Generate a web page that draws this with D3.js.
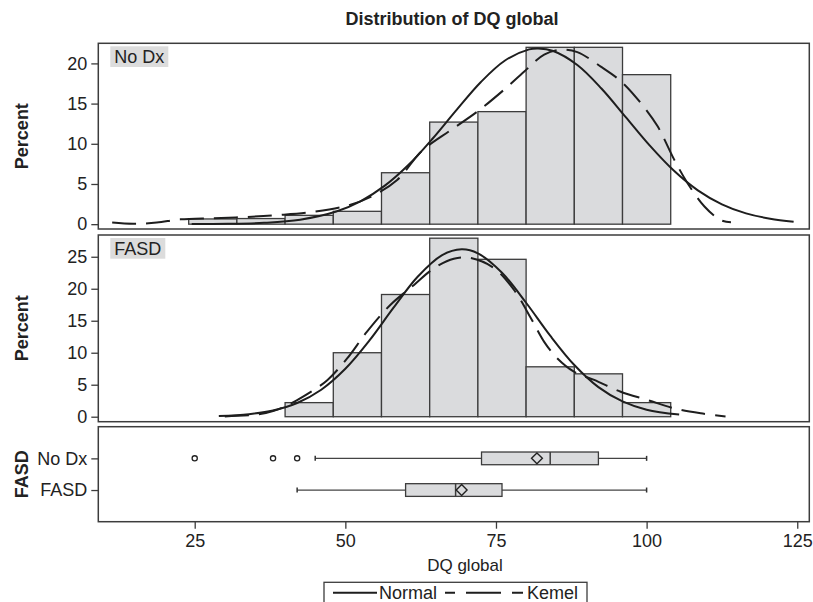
<!DOCTYPE html>
<html><head><meta charset="utf-8">
<script src="https://cdn.jsdelivr.net/npm/d3@7"></script>
<style>body{margin:0;background:#fff}svg{display:block}text{font-family:"Liberation Sans",Arial,sans-serif;fill:#222}</style>
</head><body>
<script>
// ---------- DATA ----------
const groups = ["No Dx", "FASD"];
const xTicks = [25, 50, 75, 100, 125];
const binWidth = 8;
const noDxBinStart = [24, 32, 40, 48, 56, 64, 72, 80, 88, 96];
const noDxPct = [0.65, 0.7, 1.1, 1.6, 6.4, 12.7, 14.0, 22.0, 22.0, 18.6];
const fasdBinStart = [40, 48, 56, 64, 72, 80, 88, 96];
const fasdPct = [2.2, 10.0, 19.1, 27.9, 24.6, 7.8, 6.7, 2.2];
const noDxYTicks = [0, 5, 10, 15, 20];
const fasdYTicks = [0, 5, 10, 15, 20, 25];

const noDxNormalX = [24.5, 30.5, 36.5, 42.5, 48.5, 52.5, 56.5, 60.5, 64.5, 68.5, 72.5, 76.5, 80.5, 82, 84.5, 88.5, 92.5, 96.5, 100.5, 104.5, 108.5, 112.5, 116.5, 120.5, 124.4];
const noDxNormalY = [0.01, 0.04, 0.17, 0.56, 1.57, 2.84, 4.76, 7.39, 10.66, 14.25, 17.69, 20.36, 21.74, 21.86, 21.54, 19.8, 16.88, 13.35, 9.8, 6.67, 4.21, 2.47, 1.34, 0.68, 0.31];
const noDxKernelX = [11.3, 14.8, 18.7, 22.6, 28.2, 33.7, 39.2, 44.8, 50.3, 54.2, 58.6, 62.7, 67.5, 71.9, 76.3, 79.7, 83, 85.8, 88.5, 92.4, 95.7, 99, 101.8, 104.6, 106.8, 109.6, 112.3, 114];
const noDxKernelY = [0.2, 0.05, 0.2, 0.6, 0.75, 0.9, 1.15, 1.55, 2.3, 3.4, 5.5, 9.1, 11.7, 14.0, 16.7, 19.0, 21.1, 21.7, 21.4, 19.6, 17.8, 15.1, 12.2, 8.0, 5.1, 2.2, 0.5, 0.25];

const fasdNormalX = [29, 34, 38, 42, 46, 50, 54, 58, 62, 66, 69.3, 72, 76, 80, 84, 88, 92, 96, 100, 105.4];
const fasdNormalY = [0.11, 0.4, 0.97, 2.14, 4.22, 7.49, 11.92, 17.04, 21.87, 25.22, 26.16, 25.53, 22.5, 17.81, 12.66, 8.08, 4.63, 2.39, 1.1, 0.33];
const fasdKernelX = [30, 35, 38, 40, 42, 44.8, 47, 50.3, 53.6, 57.5, 61.4, 64.7, 68, 70.8, 74.7, 78, 80.8, 83, 85.2, 88, 91.3, 95.7, 100.2, 104.6, 109, 113.1];
const fasdKernelY = [0.05, 0.3, 0.9, 1.6, 2.6, 4.2, 5.7, 9.1, 13.3, 17.5, 20.6, 23.2, 24.7, 24.8, 23.2, 19.8, 15.4, 11.7, 9.1, 7.0, 5.75, 3.9, 2.6, 1.3, 0.53, 0.05];

const boxQ1 = [72.6, 60];
const boxMedian = [84, 68.3];
const boxQ3 = [92, 76];
const boxMean = [81.8, 69.3];
const whiskerLow = [45, 42];
const whiskerHigh = [100, 100];
const noDxOutliers = [25, 38, 42];

// ---------- LAYOUT ----------
const W = 813, H = 602;
const svg = d3.select("body").append("svg").attr("width", W).attr("height", H);
svg.append("rect").attr("width", W).attr("height", H).attr("fill", "#fff");

const x = d3.scaleLinear().domain([9, 127]).range([98.3, 809.3]);
const panels = [
  {name: "No Dx", top: 43.3, bottom: 229, dom: [-0.6, 22.5], ticks: noDxYTicks,
   bins: noDxBinStart, pct: noDxPct, nx: noDxNormalX, ny: noDxNormalY, kx: noDxKernelX, ky: noDxKernelY},
  {name: "FASD", top: 235, bottom: 421.7, dom: [-0.78, 28.4], ticks: fasdYTicks,
   bins: fasdBinStart, pct: fasdPct, nx: fasdNormalX, ny: fasdNormalY, kx: fasdKernelX, ky: fasdKernelY}
];
const boxPanel = {top: 426.7, bottom: 521.7};

const barFill = "#dadbdd", darkStroke = "#3c3c3c", font = 18;

// title
svg.append("text").attr("x", 452).attr("y", 25).attr("text-anchor", "middle")
  .attr("font-size", 18).attr("font-weight", "bold").text("Distribution of DQ global");

panels.forEach((p, i) => {
  const y = d3.scaleLinear().domain(p.dom).range([p.bottom, p.top]);
  const g = svg.append("g");
  const clipId = "clip" + i;
  svg.append("clipPath").attr("id", clipId).append("rect")
    .attr("x", x.range()[0]).attr("y", p.top).attr("width", x.range()[1] - x.range()[0]).attr("height", p.bottom - p.top);

  // bars
  g.selectAll("rect.bar").data(p.bins.map((b, j) => ({b, v: p.pct[j]}))).join("rect")
    .attr("x", d => x(d.b)).attr("width", d => x(d.b + binWidth) - x(d.b))
    .attr("y", d => y(d.v)).attr("height", d => y(0) - y(d.v))
    .attr("fill", barFill).attr("stroke", darkStroke).attr("stroke-width", 1.3);

  // curves
  const line = d3.line().x(d => x(d[0])).y(d => y(d[1])).curve(d3.curveCatmullRom.alpha(0.5));
  g.append("path").attr("d", line(p.nx.map((v, j) => [v, p.ny[j]])))
    .attr("fill", "none").attr("stroke", "#1e1e1e").attr("stroke-width", 2).attr("clip-path", `url(#${clipId})`);
  g.append("path").attr("d", line(p.kx.map((v, j) => [v, p.ky[j]])))
    .attr("fill", "none").attr("stroke", "#1e1e1e").attr("stroke-width", 2)
    .attr("stroke-dasharray", "24,10").attr("clip-path", `url(#${clipId})`);

  // inset label
  const lab = g.append("g").attr("transform", `translate(${x.range()[0] + 12},${p.top + 3})`);
  const t = lab.append("text").attr("x", 4).attr("y", 17).attr("font-size", font).text(p.name);
  const bb = t.node().getBBox();
  lab.insert("rect", "text").attr("x", 0).attr("y", 0).attr("width", bb.width + 8).attr("height", 20.7).attr("fill", "#dcdcdc");

  // frame
  svg.append("rect").attr("x", x.range()[0]).attr("y", p.top).attr("width", x.range()[1] - x.range()[0])
    .attr("height", p.bottom - p.top).attr("fill", "none").attr("stroke", darkStroke).attr("stroke-width", 1.5);

  // y axis
  const ax = svg.append("g").attr("transform", `translate(${x.range()[0]},0)`)
    .call(d3.axisLeft(y).tickValues(p.ticks).tickSize(7).tickPadding(4).tickFormat(d3.format("d")));
  ax.select(".domain").remove();
  ax.selectAll("line").attr("stroke", darkStroke).attr("stroke-width", 1.3);
  ax.selectAll("text").attr("font-size", font).attr("fill", "#222").attr("font-family", '"Liberation Sans",Arial,sans-serif');

  svg.append("text").attr("transform", `translate(22,${(p.top + p.bottom) / 2}) rotate(-90)`)
    .attr("text-anchor", "middle").attr("dy", "0.35em").attr("font-size", font).attr("font-weight", "bold").text("Percent");
});

// ---------- BOX PLOT PANEL ----------
const yb = d3.scalePoint().domain(groups).range([boxPanel.top, boxPanel.bottom]).padding(1);
const bh = 12.7;
const bg = svg.append("g");
groups.forEach((gname, i) => {
  const cy = yb(gname);
  bg.append("line").attr("x1", x(whiskerLow[i])).attr("x2", x(boxQ1[i])).attr("y1", cy).attr("y2", cy)
    .attr("stroke", "#444").attr("stroke-width", 1.3);
  bg.append("line").attr("x1", x(boxQ3[i])).attr("x2", x(whiskerHigh[i])).attr("y1", cy).attr("y2", cy)
    .attr("stroke", "#444").attr("stroke-width", 1.3);
  [whiskerLow[i], whiskerHigh[i]].forEach(v => bg.append("line").attr("x1", x(v)).attr("x2", x(v))
    .attr("y1", cy - 2.5).attr("y2", cy + 2.5).attr("stroke", "#333").attr("stroke-width", 1.5));
  bg.append("rect").attr("x", x(boxQ1[i])).attr("width", x(boxQ3[i]) - x(boxQ1[i]))
    .attr("y", cy - bh / 2).attr("height", bh).attr("fill", barFill).attr("stroke", darkStroke).attr("stroke-width", 1.3);
  bg.append("line").attr("x1", x(boxMedian[i])).attr("x2", x(boxMedian[i])).attr("y1", cy - bh / 2).attr("y2", cy + bh / 2)
    .attr("stroke", darkStroke).attr("stroke-width", 1.5);
  bg.append("path").attr("d", d3.symbol(d3.symbolDiamond2, 75)()).attr("transform", `translate(${x(boxMean[i])},${cy})`)
    .attr("fill", "none").attr("stroke", "#222").attr("stroke-width", 1.4);
});
bg.selectAll("circle.out").data(noDxOutliers).join("circle")
  .attr("cx", d => x(d)).attr("cy", yb("No Dx")).attr("r", 2.6)
  .attr("fill", "none").attr("stroke", "#222").attr("stroke-width", 1.3);

svg.append("rect").attr("x", x.range()[0]).attr("y", boxPanel.top).attr("width", x.range()[1] - x.range()[0])
  .attr("height", boxPanel.bottom - boxPanel.top).attr("fill", "none").attr("stroke", darkStroke).attr("stroke-width", 1.5);

const ayb = svg.append("g").attr("transform", `translate(${x.range()[0]},0)`).call(d3.axisLeft(yb).tickSize(7).tickPadding(4));
ayb.select(".domain").remove();
ayb.selectAll("line").attr("stroke", darkStroke).attr("stroke-width", 1.3);
ayb.selectAll("text").attr("font-size", font).attr("fill", "#222").attr("font-family", '"Liberation Sans",Arial,sans-serif');
svg.append("text").attr("transform", `translate(22,${(boxPanel.top + boxPanel.bottom) / 2}) rotate(-90)`)
  .attr("text-anchor", "middle").attr("dy", "0.35em").attr("font-size", font).attr("font-weight", "bold").text("FASD");

// x axis
const axx = svg.append("g").attr("transform", `translate(0,${boxPanel.bottom})`)
  .call(d3.axisBottom(x).tickValues(xTicks).tickSize(7).tickPadding(6).tickFormat(d3.format("d")));
axx.select(".domain").remove();
axx.selectAll("line").attr("stroke", darkStroke).attr("stroke-width", 1.3);
axx.selectAll("text").attr("font-size", font).attr("fill", "#222").attr("font-family", '"Liberation Sans",Arial,sans-serif');
svg.append("text").attr("x", 465).attr("y", 571).attr("text-anchor", "middle").attr("font-size", 17).text("DQ global");

// legend
const lg = svg.append("g");
lg.append("rect").attr("x", 324).attr("y", 582.3).attr("width", 263).attr("height", 40)
  .attr("fill", "#fff").attr("stroke", darkStroke).attr("stroke-width", 1.3);
lg.append("line").attr("x1", 333).attr("x2", 377).attr("y1", 592.7).attr("y2", 592.7).attr("stroke", "#1e1e1e").attr("stroke-width", 2);
lg.append("text").attr("x", 379).attr("y", 598.5).attr("font-size", font).text("Normal");
lg.append("line").attr("x1", 445).attr("x2", 523).attr("y1", 592.7).attr("y2", 592.7).attr("stroke", "#1e1e1e").attr("stroke-width", 2)
  .attr("stroke-dasharray", "35,11").attr("stroke-dashoffset", 25);
lg.append("text").attr("x", 527).attr("y", 598.5).attr("font-size", font).text("Kemel");
</script>
</body></html>
